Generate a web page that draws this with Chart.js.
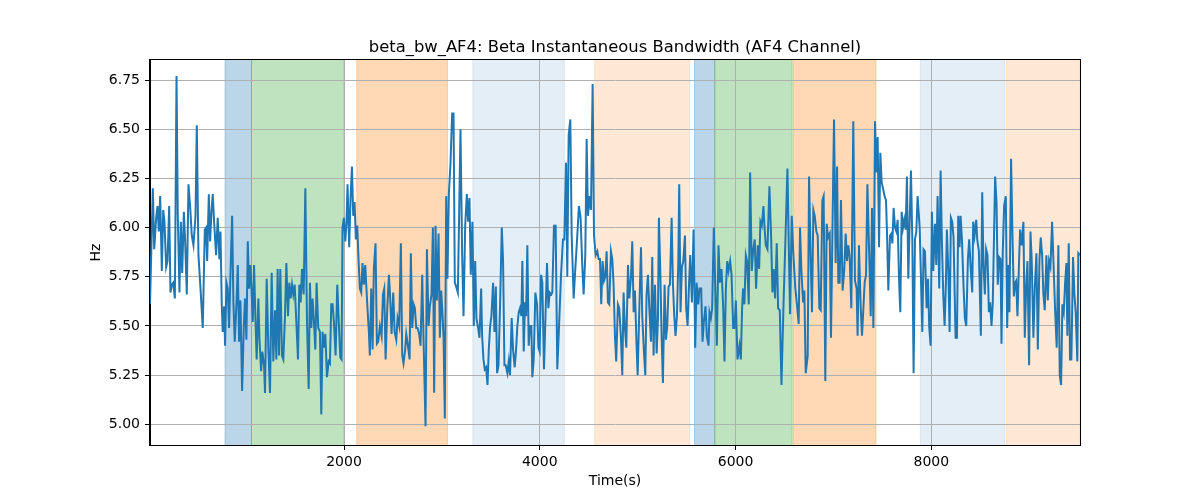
<!DOCTYPE html>
<html><head><meta charset="utf-8">
<script src="https://cdn.jsdelivr.net/npm/chart.js@4.4.0/dist/chart.umd.min.js"></script>
<style>html,body{margin:0;padding:0;background:#fff}canvas{display:block}</style>
</head><body>
<canvas id="c" width="1200" height="500"></canvas>
<script>
const chartTitle = 'beta_bw_AF4: Beta Instantaneous Bandwidth (AF4 Channel)';
const xLabel = 'Time(s)';
const yLabel = 'Hz';
const xTicks = [2000, 4000, 6000, 8000];
const yTicks = [5.00, 5.25, 5.50, 5.75, 6.00, 6.25, 6.50, 6.75];

const timeSec = [
18,47,61,81,95,108,122,139,153,166,183,197,214,227,241,255,272,289,302,319,333,347,364,377,394,411,428,445,462,483,496,513,534,557,578,591,602,619,632,646,659,673,693,710,727,738,751,761,775,785,799,812,826,840,857,870,884,901,915,928,942,959,976,989,1003,1017,1030,1044,1057,1068,1081,1095,1108,1125,1136,1153,1166,1183,1193,
1210,1227,1244,1261,1278,1295,1309,1322,1336,1349,1366,1380,1397,1411,1428,1441,1455,1469,1482,1496,1513,1530,1543,1557,1571,1588,1605,1622,1639,1652,1666,1679,1693,1707,1720,1737,1754,1768,1781,1795,1809,1826,1843,1856,1870,1883,1897,1914,1931,1945,1962,1975,1985,1999,2013,2026,2036,2053,2067,2081,2094,2108,2121,2135,2149,2162,2176,2189,2203,2217,2227,2241,2254,2264,2278,2292,2305,2322,2336,2349,
2367,2384,2398,2411,2425,2442,2459,2472,2486,2503,2517,2534,2547,2564,2581,2595,2608,2625,2636,2653,2670,2683,2697,2711,2724,2738,2751,2768,2782,2799,2813,2833,2847,2864,2877,2894,2908,2921,2935,2949,2966,2979,2993,3006,3017,3030,3044,3057,3071,3088,3105,3119,3132,3146,3163,3176,3190,3207,3221,3238,3255,3268,3282,3295,3312,3326,3340,3353,3370,3384,3401,3411,3425,3438,3452,3466,3479,3493,3506,3523,3537,3551,3564,3578,3595,3612,3625,3639,
3652,3669,3683,3696,3713,3727,3744,3758,3771,3785,3798,3812,3822,3836,3849,3860,3873,3887,3900,3914,3924,3938,3955,3972,3986,3999,4013,4026,4043,4060,4074,4088,4101,4118,4128,4145,4162,4179,4200,4217,4237,4251,4268,4281,4295,4312,4326,4346,4363,4380,4400,4417,4434,4448,4465,4479,4492,4509,4523,4540,4554,4571,4588,4601,4615,4628,4642,4656,4669,4683,4696,4710,4727,4741,4754,4768,4781,4798,4812,4829,4843,4856,
4870,4884,4901,4915,4932,4945,4959,4972,4989,5000,5017,5034,5047,5064,5078,5091,5105,5119,5136,5149,5163,5177,5194,5207,5217,5231,5245,5258,5275,5289,5302,5316,5330,5347,5360,5374,5387,5401,5415,5425,5438,5452,5466,5483,5496,5510,5523,5537,5554,5571,5588,5602,5619,5632,5649,5663,5676,5693,5707,5724,5734,5748,5761,5778,5795,5809,5826,5840,5857,5874,5887,5901,5915,5928,5945,5959,5976,5989,6003,6020,
6040,6054,6067,6077,6091,6105,6118,6135,6149,6166,6179,6196,6210,6227,6241,6254,6268,6285,6295,6309,6326,6346,6363,6377,6390,6404,6421,6435,6452,6469,6489,6509,6530,6543,6557,6574,6591,6611,6625,6645,6659,6673,6690,6703,6717,6737,6751,6768,6781,6795,6809,6826,6839,6856,6870,6887,6900,6917,6931,6945,6962,6975,6989,7006,7023,7037,7050,7064,7077,7094,7111,7125,7139,7152,7166,7183,7203,7220,7237,7247,7261,7278,
7292,7306,7319,7333,7347,7367,7381,7394,7408,7425,7438,7452,7466,7479,7493,7506,7523,7537,7547,7561,7578,7592,7602,7615,7629,7643,7656,7670,7683,7697,7711,7724,7738,7751,7765,7779,7792,7806,7819,7833,7847,7860,7881,7898,7908,7921,7935,7952,7966,7979,7993,8006,8020,8037,8051,8064,8081,8095,8108,8122,8136,8149,8159,8173,8187,8200,8214,8227,8248,8262,8275,8289,8299,8313,8330,8343,8357,8374,8387,8404,8418,8428,8442,8459,8469,8486,
8506,8520,8533,8547,8560,8574,8588,8601,8615,8628,8652,8666,8679,8693,8707,8717,8730,8744,8761,8775,8788,8798,8815,8829,8843,8856,8867,8880,8894,8907,8924,8941,8955,8969,8982,8999,9013,9026,9043,9057,9074,9088,9105,9118,9132,9145,9159,9176,9190,9203,9217,9234,9247,9264,9281,9298,9312,9326,9339,9353,9366,9380,9390,9404,9417,9431,9448,9462,9475,9492,9502,9519
];

const bandwidthHz = [
5.61,6.20,5.89,6.05,6.11,5.98,6.16,5.78,6.09,6.03,5.80,5.83,6.11,5.67,5.71,5.72,5.64,6.77,6.06,5.67,6.03,5.77,6.08,5.93,5.66,6.22,6.11,5.96,5.91,6.06,6.52,5.86,5.69,5.49,5.99,6.00,5.83,6.17,5.93,6.08,6.17,6.03,5.86,6.05,5.84,5.98,5.61,5.47,5.60,5.40,5.72,5.69,5.49,5.76,6.06,5.62,5.42,5.61,5.81,5.42,5.63,5.17,5.49,5.64,5.43,5.93,5.69,5.81,5.66,5.52,5.81,5.54,5.33,5.64,5.44,5.27,5.37,5.30,5.16,
5.74,5.39,5.16,5.77,5.32,5.58,5.33,5.79,5.35,5.79,5.35,5.33,5.55,5.82,5.55,5.72,5.64,5.71,5.66,5.71,5.52,5.33,5.71,5.62,5.79,5.66,6.20,5.52,5.18,5.72,5.49,5.64,5.52,5.38,5.72,5.49,5.47,5.05,5.47,5.39,5.46,5.24,5.32,5.31,5.61,5.61,5.52,5.35,5.71,5.54,5.34,5.33,6.00,6.05,5.93,6.03,6.22,5.90,6.15,6.31,6.06,6.13,5.94,6.01,5.83,5.69,5.67,5.82,5.71,5.81,5.71,5.58,5.47,5.35,5.69,5.38,5.79,5.92,5.41,5.42,
5.50,5.45,5.66,5.69,5.33,5.59,5.76,5.64,5.46,5.67,5.47,5.43,5.54,5.50,5.92,5.35,5.31,5.38,5.46,5.40,5.33,5.87,5.49,5.61,5.59,5.49,5.49,5.46,5.40,5.76,5.42,4.99,5.89,5.50,5.60,5.66,6.00,5.16,6.01,5.63,5.97,5.44,5.68,5.56,5.44,5.03,6.16,5.74,6.17,6.33,6.58,6.58,5.72,5.70,5.67,6.06,6.50,5.86,5.55,6.01,6.17,6.03,6.15,5.76,6.03,5.50,5.83,5.54,5.49,5.44,5.69,5.45,5.33,5.28,5.29,5.20,5.38,5.50,5.55,5.72,5.47,5.70,5.26,5.30,5.62,6.00,5.83,5.30,
5.30,5.26,5.32,5.25,5.54,5.38,5.29,5.38,5.50,5.57,5.59,5.55,5.83,5.37,5.62,5.55,5.91,5.40,5.50,5.50,5.24,5.33,5.67,5.61,5.39,5.37,5.76,5.72,5.28,5.58,5.82,5.59,5.67,5.66,5.67,6.01,6.01,5.28,5.54,5.76,5.94,5.94,6.33,5.75,6.47,6.55,5.96,5.64,5.79,5.93,6.11,6.05,5.81,5.66,5.86,6.45,6.06,6.16,6.09,6.73,5.96,5.86,5.88,5.84,5.84,5.61,5.83,5.73,5.75,5.88,5.62,5.61,5.88,5.84,5.71,5.45,5.32,5.61,5.59,5.44,5.25,5.67,
5.49,5.39,5.81,5.64,5.75,5.93,5.57,5.68,5.40,5.25,5.59,5.90,5.55,5.37,5.25,5.66,5.76,5.59,5.42,5.85,5.35,5.71,5.36,5.53,6.05,5.78,5.44,5.21,5.71,5.43,5.50,5.70,5.71,6.05,5.72,5.55,5.45,5.55,5.82,6.22,5.57,5.80,5.83,5.96,5.59,5.50,5.69,5.86,5.62,5.99,5.39,5.72,5.61,5.69,5.69,5.42,5.52,5.60,5.45,5.40,5.57,5.54,5.59,6.00,5.66,5.40,5.91,5.72,5.79,5.59,5.32,5.69,5.83,5.78,5.83,5.76,5.49,5.49,5.63,5.33,
5.40,5.33,5.59,5.69,5.61,5.86,5.83,5.61,6.28,5.78,5.88,5.94,5.69,5.91,5.79,6.03,6.01,6.11,6.01,5.91,5.89,6.21,5.96,5.67,5.79,5.64,5.92,5.59,5.58,5.20,5.59,5.93,6.30,5.93,5.56,6.06,5.86,5.69,5.62,5.51,6.00,5.78,5.62,5.68,5.26,5.35,6.26,5.83,5.57,6.09,6.06,5.98,5.96,5.59,5.58,6.14,6.16,5.22,6.02,5.95,5.97,5.44,5.95,6.55,5.82,6.31,5.72,5.72,6.14,5.68,5.79,5.97,5.83,5.91,5.85,5.59,6.54,5.73,5.69,5.45,5.91,5.60,
5.45,5.59,5.72,5.76,6.22,5.83,5.55,6.10,5.49,6.54,6.28,6.46,5.90,6.38,6.23,6.20,6.16,6.14,5.98,5.68,5.96,5.97,5.92,6.10,6.00,5.98,6.04,5.74,5.57,6.08,6.00,6.04,5.99,6.26,5.74,6.03,6.29,5.94,5.26,5.94,5.98,6.16,6.00,5.67,5.47,5.89,5.88,5.59,5.74,5.49,5.40,6.08,5.78,6.02,5.81,6.16,5.69,6.29,5.93,5.66,5.50,5.72,5.99,5.79,5.47,6.05,6.03,5.95,5.44,5.44,6.06,5.90,6.06,5.94,5.69,5.54,5.50,5.84,5.94,5.78,5.67,6.03,5.96,6.04,5.94,5.88,
5.45,6.18,5.81,5.66,5.89,5.86,5.57,5.62,5.50,5.62,6.26,6.13,5.71,5.85,5.84,5.41,5.88,6.11,6.16,5.49,5.81,5.57,6.35,5.96,5.65,5.72,5.73,5.55,5.79,5.99,5.91,6.03,5.44,5.70,5.83,5.30,5.98,5.83,5.44,5.69,5.87,5.38,5.84,5.95,5.86,5.66,5.58,5.86,5.63,5.83,5.80,6.03,5.84,5.59,5.39,5.91,5.25,5.20,5.61,5.57,5.71,5.82,5.45,5.92,5.33,5.33,5.85,5.66,5.57,5.32,5.87,5.86
];

// shaded time intervals (seconds) and their category
const bandStart = [785, 1055, 2130, 3316, 4561, 5581, 5788, 6588, 7887, 8765];
const bandEnd   = [1055, 1999, 3057, 4251, 5530, 5788, 6578, 7435, 8748, 9519];
const bandKind  = ['blueDark','green','orangeDark','blueLight','orangeLight','blueDark','green','orangeDark','blueLight','orangeLight'];

const bandStyle = {
  blueDark: 'rgba(31,119,180,0.3)',
  green: 'rgba(44,160,44,0.3)',
  orangeDark: 'rgba(255,127,14,0.3)',
  blueLight: 'rgba(31,119,180,0.12)',
  orangeLight: 'rgba(255,127,14,0.17)'
};

const FONT = 'DejaVu Sans';

const bandsPlugin = {
  id: 'bands',
  beforeDraw(chart) {
    const {ctx, chartArea: a, scales: {x}} = chart;
    ctx.save();
    ctx.beginPath();
    ctx.rect(a.left, a.top, a.right - a.left, a.bottom - a.top);
    ctx.clip();
    for (let i = 0; i < bandStart.length; i++) {
      const x0 = x.getPixelForValue(bandStart[i]);
      const x1 = x.getPixelForValue(bandEnd[i]);
      const col = bandStyle[bandKind[i]];
      ctx.fillStyle = col;
      ctx.fillRect(x0, a.top, x1 - x0, a.bottom - a.top);
      ctx.strokeStyle = col;
      ctx.lineWidth = 1;
      ctx.beginPath();
      ctx.moveTo(x0, a.top); ctx.lineTo(x0, a.bottom);
      ctx.moveTo(x1, a.top); ctx.lineTo(x1, a.bottom);
      ctx.stroke();
    }
    ctx.restore();
  },
  afterDraw(chart) {
    const {ctx, chartArea: a} = chart;
    ctx.save();
    ctx.strokeStyle = '#000';
    ctx.lineWidth = 1;
    ctx.strokeRect(Math.round(a.left) - 0.5, Math.round(a.top) - 0.5, Math.round(a.right - a.left) + 1, Math.round(a.bottom - a.top) + 1);
    ctx.fillStyle = '#000';
    ctx.font = '16.4px "' + FONT + '"';
    ctx.textAlign = 'center';
    ctx.textBaseline = 'alphabetic';
    ctx.fillText(chartTitle, (a.left + a.right) / 2, 52);
    ctx.restore();
  }
};

const points = timeSec.map((t, i) => ({x: t, y: bandwidthHz[i]}));

new Chart(document.getElementById('c'), {
  type: 'line',
  data: {
    datasets: [{
      data: points,
      borderColor: '#1f77b4',
      borderWidth: 2,
      pointRadius: 0,
      fill: false,
      tension: 0
    }]
  },
  options: {
    responsive: false,
    animation: false,
    events: [],
    layout: {padding: {left: 0, right: 120, top: 60, bottom: 0}},
    plugins: {legend: {display: false}, tooltip: {enabled: false}, title: {display: false}},
    scales: {
      x: {
        type: 'linear',
        min: timeSec[0],
        max: timeSec[timeSec.length - 1],
        afterBuildTicks: s => { s.ticks = xTicks.map(v => ({value: v})); },
        afterFit: s => { s.height = 55; },
        ticks: {font: {family: FONT, size: 14}, color: '#000', padding: 4, maxRotation: 0, autoSkip: false, callback: v => String(v)},
        grid: {color: '#b0b0b0', lineWidth: 1, tickLength: 5, tickColor: '#000', tickWidth: 1},
        border: {color: '#000', width: 1},
        title: {display: true, text: xLabel, color: '#000', font: {family: FONT, size: 14}, padding: {top: 0, bottom: 10}}
      },
      y: {
        type: 'linear',
        min: 4.895,
        max: 6.852,
        afterBuildTicks: s => { s.ticks = yTicks.map(v => ({value: v})); },
        afterFit: s => { s.width = 150; },
        ticks: {font: {family: FONT, size: 14}, color: '#000', padding: 5, autoSkip: false, callback: v => Number(v).toFixed(2)},
        grid: {color: '#b0b0b0', lineWidth: 1, tickLength: 5, tickColor: '#000', tickWidth: 1},
        border: {color: '#000', width: 1},
        title: {display: true, text: yLabel, color: '#000', font: {family: FONT, size: 14}, padding: {top: 88, bottom: 0}}
      }
    }
  },
  plugins: [bandsPlugin]
});
</script>
</body></html>
